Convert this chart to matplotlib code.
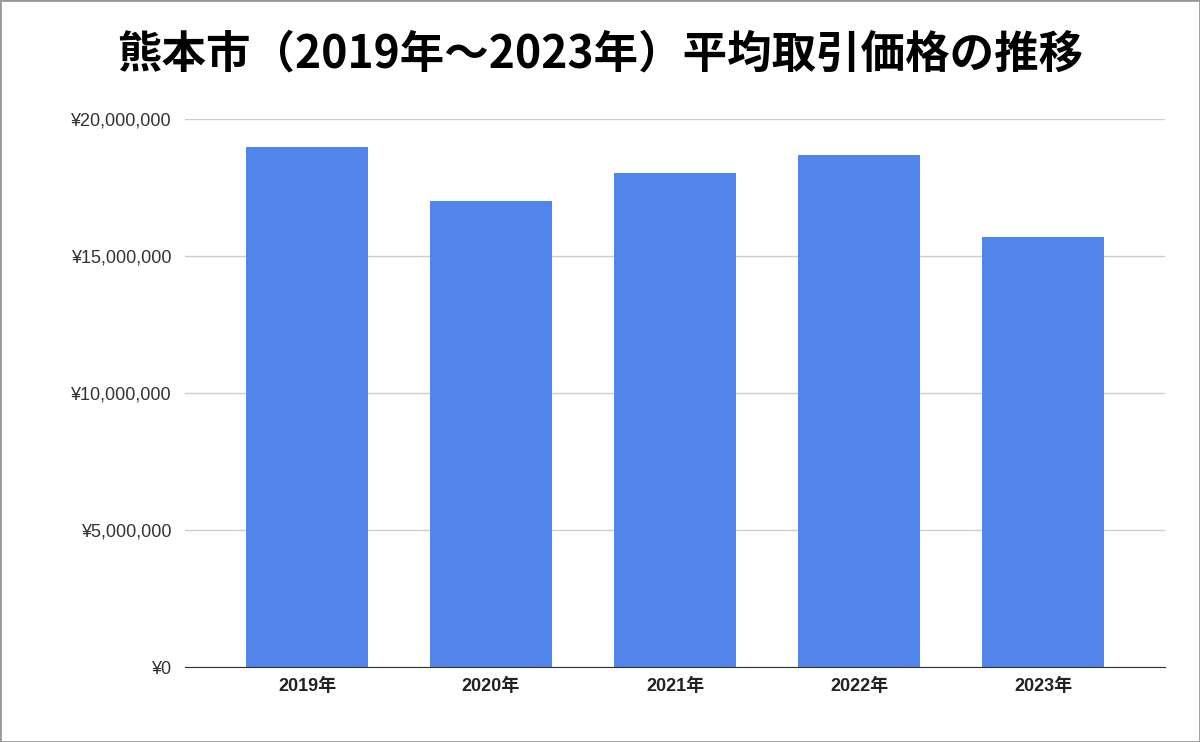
import matplotlib
matplotlib.use("Agg")
import matplotlib.pyplot as plt
from matplotlib.ticker import FuncFormatter
from matplotlib.patches import Rectangle

plt.rcParams['font.family'] = ['Liberation Sans', 'Noto Sans CJK JP', 'DejaVu Sans']

years = ["2019年", "2020年", "2021年", "2022年", "2023年"]
prices = [18980000, 17000000, 18030000, 18690000, 15690000]

fig = plt.figure(figsize=(12, 7.42), dpi=100)
ax = fig.add_axes([185 / 1200, 1 - 667 / 742, 980 / 1200, 548 / 742])

x = range(len(years))
ax.bar(x, prices, width=0.66, color="#5185ec", zorder=2)
ax.set_xlim(-0.663, len(years) - 1 + 0.663)
ax.set_ylim(0, 20000000)
ax.set_yticks([0, 5000000, 10000000, 15000000, 20000000])
ax.yaxis.set_major_formatter(FuncFormatter(lambda v, p: f"¥{int(v):,}"))
ax.set_xticks(list(x))
ax.set_xticklabels(years, fontsize=13, fontweight="bold", color="#222222")
ax.tick_params(axis="y", labelsize=13, length=0, pad=10, labelcolor="#333333")
ax.tick_params(axis="x", length=0, pad=8)
ax.grid(axis="y", color="#cccccc", linewidth=1, zorder=0)
for s in ["top", "right", "left"]:
    ax.spines[s].set_visible(False)
ax.spines["bottom"].set_color("#333333")

fig.text(0.5, 1 - 55 / 742, "熊本市（2019年～2023年）平均取引価格の推移",
         ha="center", va="center", fontsize=32, fontweight="bold",
         family=['Noto Sans CJK JP', 'DejaVu Sans'])
fig.patches.append(Rectangle((0, 0), 1, 1, transform=fig.transFigure,
                             fill=False, edgecolor="#999999", linewidth=2))
fig.savefig("out.png", dpi=100)
